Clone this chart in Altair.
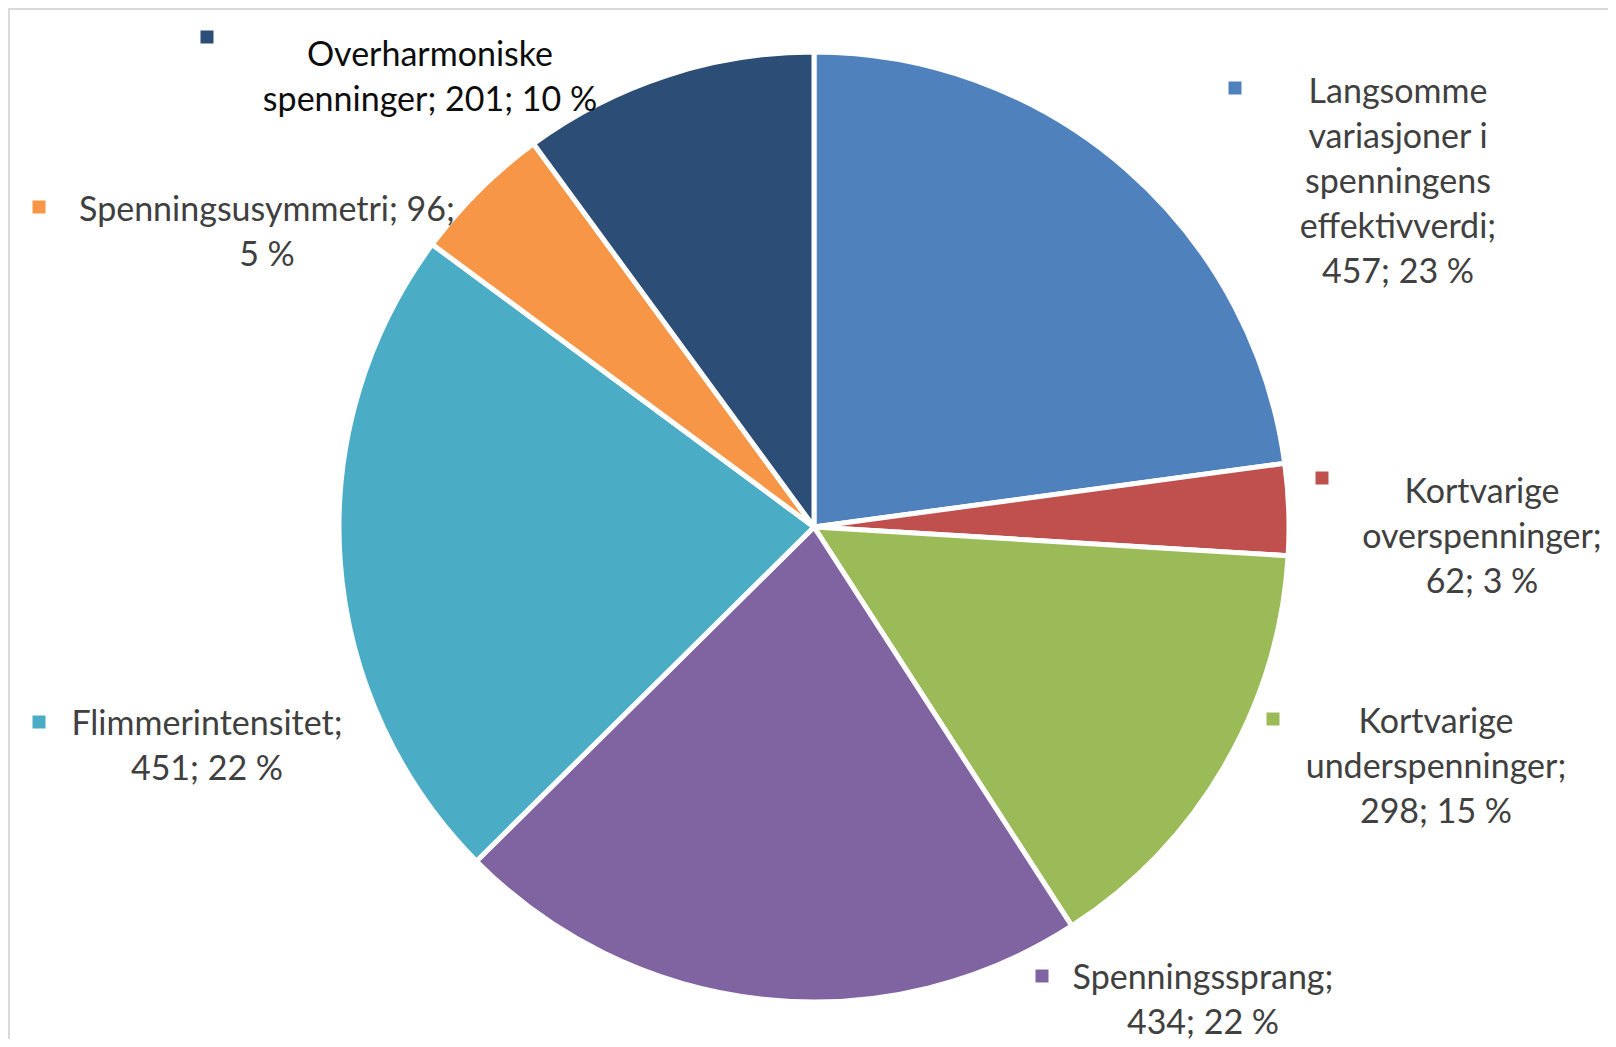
import textwrap
import altair as alt
import pandas as pd

# ---- data ----
categories = [
    "Langsomme variasjoner i spenningens effektivverdi",
    "Kortvarige overspenninger",
    "Kortvarige underspenninger",
    "Spenningssprang",
    "Flimmerintensitet",
    "Spenningsusymmetri",
    "Overharmoniske spenninger",
]
values = [457, 62, 298, 434, 451, 96, 201]
percents = [23, 3, 15, 22, 22, 5, 10]

# ---- styling / layout ----
colors = ["#4F81BD", "#C0504D", "#9BBB59", "#8064A2", "#4BACC6", "#F79646", "#2C4D75"]
text_colors = ["#404040"] * 6 + ["#0d0d0d"]
wrap_widths = [14, 15, 16, 16, 18, 23, 21]
# label anchors (centre x, first-line middle y) in chart pixels
label_x = [1390, 1474, 1428, 1195, 199, 259, 422]
label_y = [85, 485, 715, 971, 717, 203, 48]
marker_x = [1227, 1314, 1265, 1034, 31, 31, 199]
marker_y = [80, 470, 711, 968, 714, 199, 29]
LINE_H = 45
FONT = "Lato"
FONT_SIZE = 34
W, H = 1600, 1031
CX, CY, R = 806, 519, 475

pie_df = pd.DataFrame({
    "category": categories,
    "value": values,
    "idx": list(range(len(categories))),
})

rows = []
for i, (c, v, p) in enumerate(zip(categories, values, percents)):
    text = f"{c}; {v}; {p} %"
    lines = textwrap.wrap(text, width=wrap_widths[i])
    for j, ln in enumerate(lines):
        rows.append({"line": ln, "x": label_x[i], "y": label_y[i] + j * LINE_H,
                     "tcolor": text_colors[i]})
lines_df = pd.DataFrame(rows)

marker_df = pd.DataFrame({"x": marker_x, "y": marker_y, "color": colors})

pie = alt.Chart(pie_df).mark_arc(radius=R, stroke="white", strokeWidth=5).encode(
    theta=alt.Theta("value:Q", stack=True),
    color=alt.Color("category:N", scale=alt.Scale(domain=categories, range=colors), legend=None),
    order=alt.Order("idx:Q"),
    x=alt.value(CX),
    y=alt.value(CY),
)

labels = alt.Chart(lines_df).mark_text(
    font=FONT, fontSize=FONT_SIZE, align="center", baseline="middle"
).encode(
    x=alt.X("x:Q", scale=None, axis=None),
    y=alt.Y("y:Q", scale=None, axis=None),
    text="line:N",
    color=alt.Color("tcolor:N", scale=None),
)

markers = alt.Chart(marker_df).mark_square(size=169, opacity=1).encode(
    x=alt.X("x:Q", scale=None, axis=None),
    y=alt.Y("y:Q", scale=None, axis=None),
    color=alt.Color("color:N", scale=None),
)

top_border = alt.Chart(pie_df).mark_rule(color="#d9d9d9", strokeWidth=2).encode(
    x=alt.value(0), x2=alt.value(W), y=alt.value(1)
)
left_border = alt.Chart(pie_df).mark_rule(color="#d9d9d9", strokeWidth=2).encode(
    x=alt.value(1), y=alt.value(0), y2=alt.value(H)
)

chart = alt.layer(top_border, left_border, pie, markers, labels).properties(
    width=W, height=H, autosize=alt.AutoSizeParams(type="none"), padding=0,
    background="white",
).configure_view(strokeWidth=0)

chart.save("out.html", embed_options={"renderer": "svg", "actions": False})
